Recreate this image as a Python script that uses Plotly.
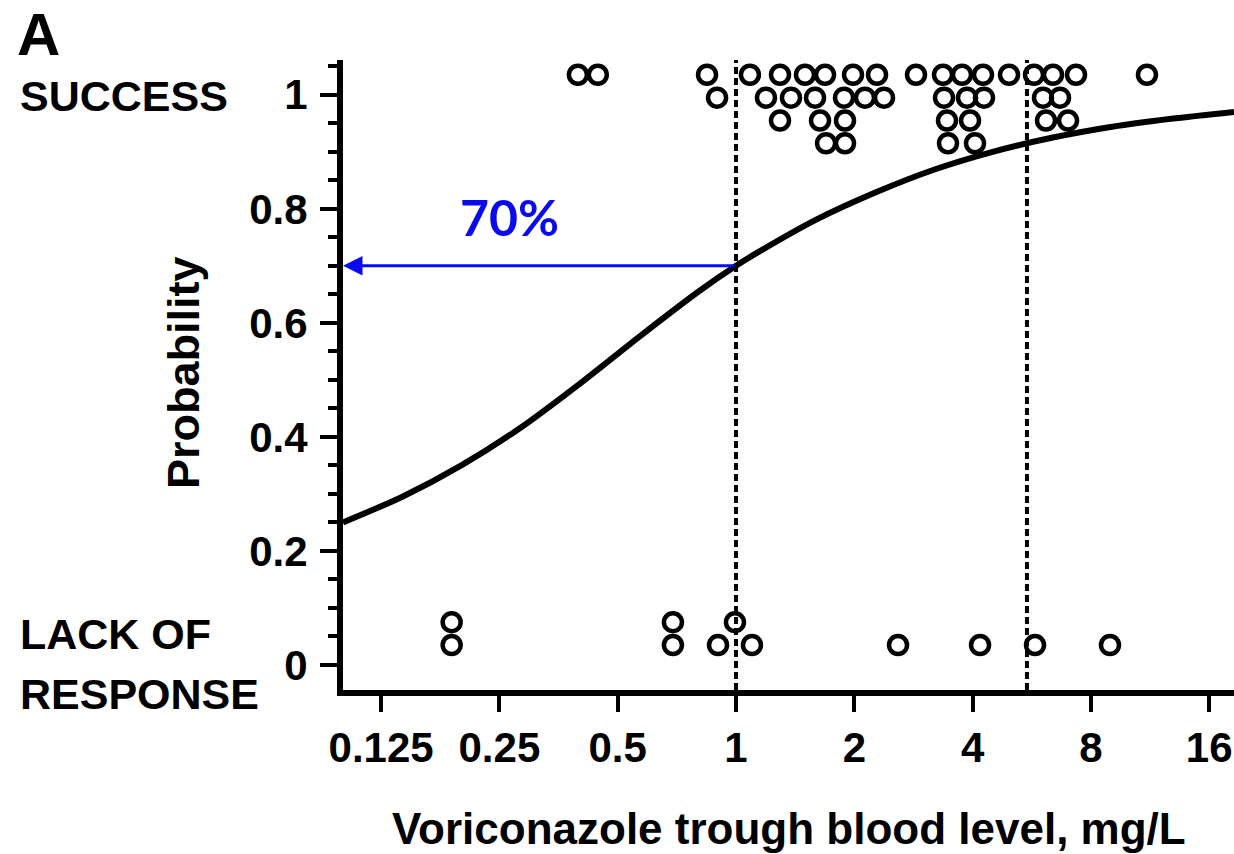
import math
import plotly.graph_objects as go

# Voriconazole trough levels (mg/L) of patients who responded, by stack row
success_x = [
    [0.396, 0.445, 0.844, 1.085, 1.294, 1.498, 1.685, 1.985, 2.285, 2.871,
     3.363, 3.759, 4.251, 4.951, 5.732, 6.407, 7.332, 11.11],
    [0.895, 1.192, 1.380, 1.589, 1.883, 2.129, 2.380, 3.383, 3.871, 4.276,
     6.042, 6.675],
    [1.294, 1.636, 1.894, 3.443, 3.940, 6.149, 6.996],
    [1.695, 1.894, 3.463, 4.057],
]
success_y = [1.035, 0.995, 0.955, 0.915]

# Levels of patients with lack of response, by stack row
failure_x = [
    [0.189, 0.691, 0.994],
    [0.189, 0.691, 0.900, 1.098, 2.584, 4.178, 5.766, 8.946],
]
failure_y = [0.075, 0.035]

# Fitted probability of response vs trough level
curve_x = [0.1, 0.1416, 0.2, 0.283, 0.4, 0.566, 0.8, 1.0, 1.133, 1.6, 2.27,
           3.2, 4.5, 6.4, 9.06, 12.8, 18.5]
curve_p = [0.25, 0.295, 0.35, 0.416, 0.493, 0.575, 0.654, 0.70, 0.723, 0.781, 0.829,
           0.869, 0.90, 0.925, 0.944, 0.958, 0.970]

# Therapeutic window bounds (mg/L)
thresholds = [1.0, 5.5]
target_level = 1.0
target_prob = 0.70

x_ticks = [0.125, 0.25, 0.5, 1, 2, 4, 8, 16]
x_ticktext = ["0.125", "0.25", "0.5", "1", "2", "4", "8", "16"]
y_ticks = [0, 0.2, 0.4, 0.6, 0.8, 1.0]
y_ticktext = ["0", "0.2", "0.4", "0.6", "0.8", "1"]

x_min, x_max = 0.1, 18.5
y_min, y_max = -0.044, 1.061

FONT = "Liberation Sans"
BLACK = "#000000"
BLUE = "#0a0af0"

# plot area in pixels (for placing the side labels)
L, W, H = 343, 891, 630

fig = go.Figure()

fig.add_trace(go.Scatter(
    x=curve_x, y=curve_p, mode="lines",
    line=dict(color=BLACK, width=6, shape="spline", smoothing=0.8),
    hoverinfo="skip",
))

marker = dict(symbol="circle-open", size=18, color=BLACK, line=dict(width=4.5, color=BLACK))
for xs, yv in zip(success_x, success_y):
    fig.add_trace(go.Scatter(x=xs, y=[yv] * len(xs), mode="markers", marker=marker))
for xs, yv in zip(failure_x, failure_y):
    fig.add_trace(go.Scatter(x=xs, y=[yv] * len(xs), mode="markers", marker=marker))

for t in thresholds:
    fig.add_shape(type="line", xref="x", yref="paper", x0=t, x1=t, y0=0, y1=1,
                  line=dict(color=BLACK, width=4, dash="7px,4px"), layer="above")

# Arrow from the curve at 1 mg/L back to the probability axis
fig.add_annotation(
    x=math.log10(x_min), y=target_prob, ax=math.log10(target_level), ay=target_prob,
    xref="x", yref="y", axref="x", ayref="y", text="", showarrow=True,
    arrowhead=2, arrowsize=1.3, arrowwidth=3, arrowcolor=BLUE, standoff=0,
)
fig.add_annotation(
    x=math.log10(0.266), y=0.785, xref="x", yref="y", text="70%", showarrow=False,
    font=dict(family="Lato", size=50, color=BLUE, weight="bold"),
)

label_font = dict(family=FONT, size=43, color=BLACK, weight="bold")
side_x = -(L - 18) / W
fig.add_annotation(x=side_x, y=(690 - 96) / H, xref="paper", yref="paper", xanchor="left",
                   yanchor="middle", text="SUCCESS", showarrow=False, font=label_font)
fig.add_annotation(x=side_x, y=(690 - 634) / H, xref="paper", yref="paper", xanchor="left",
                   yanchor="middle", text="LACK OF", showarrow=False, font=label_font)
fig.add_annotation(x=side_x, y=(690 - 694) / H, xref="paper", yref="paper", xanchor="left",
                   yanchor="middle", text="RESPONSE", showarrow=False, font=label_font)
fig.add_annotation(x=-(L - 15) / W, y=(690 - 35) / H, xref="paper", yref="paper",
                   xanchor="left", yanchor="middle", text="A", showarrow=False,
                   font=dict(family=FONT, size=60, color=BLACK, weight="bold"))
fig.add_annotation(x=-(L - 183) / W, y=0.5 + 2 / H, xref="paper", yref="paper",
                   xanchor="center", yanchor="middle", text="Probability", textangle=-90,
                   showarrow=False, font=dict(family=FONT, size=45, color=BLACK, weight="bold"))
fig.add_annotation(x=0.5, y=-(828 - 690) / H, xref="paper", yref="paper",
                   xanchor="center", yanchor="middle",
                   text="Voriconazole trough blood level, mg/L", showarrow=False,
                   font=dict(family=FONT, size=44, color=BLACK, weight="bold"))

fig.update_xaxes(
    type="log", range=[math.log10(x_min), math.log10(x_max)],
    showline=True, linewidth=6, linecolor=BLACK, showgrid=False, zeroline=False,
    ticks="outside", ticklen=16, tickwidth=4, tickcolor=BLACK,
    tickvals=x_ticks, ticktext=x_ticktext, ticklabelstandoff=0,
    tickfont=dict(family=FONT, size=42, color=BLACK, weight="bold"),
)
fig.update_yaxes(
    range=[y_min, y_max],
    showline=True, linewidth=6, linecolor=BLACK, showgrid=False, zeroline=False,
    ticks="outside", ticklen=17, tickwidth=4, tickcolor=BLACK,
    tickvals=y_ticks, ticktext=y_ticktext, ticklabelstandoff=4,
    tickfont=dict(family=FONT, size=42, color=BLACK, weight="bold"),
    minor=dict(dtick=0.05, tick0=0, ticks="outside", ticklen=9, tickwidth=4, tickcolor=BLACK),
)

fig.update_layout(
    width=1234, height=854,
    margin=dict(l=L, r=0, t=60, b=164),
    paper_bgcolor="white", plot_bgcolor="white",
    showlegend=False,
)

fig.write_html("out.html")
